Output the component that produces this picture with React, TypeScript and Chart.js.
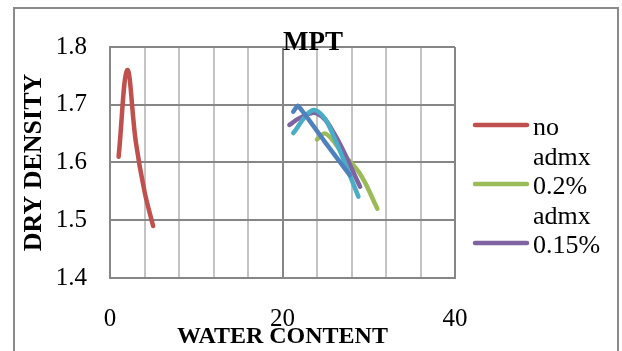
import React, { useEffect, useRef } from "react";
import { Chart, registerables } from "chart.js";

Chart.register(...registerables);

const chartTitle = "MPT";
const xTitle = "WATER CONTENT";
const yTitle = "DRY DENSITY";

const redX = [1, 2, 3, 4, 5];
const redY = [1.61, 1.76, 1.635, 1.55, 1.49];
const greenX = [24, 25, 27, 29, 31];
const greenY = [1.64, 1.65, 1.615, 1.58, 1.52];
const purpleX = [20.8, 22, 24, 26, 29];
const purpleY = [1.665, 1.677, 1.685, 1.65, 1.558];
const cyanX = [21.25, 23.4, 24.7, 26, 28.8];
const cyanY = [1.651, 1.69, 1.68, 1.643, 1.541];
const blueX = [21.25, 21.8, 24.8, 27.8];
const blueY = [1.688, 1.698, 1.638, 1.578];

const legendEntries = [
  { lines: ["no", "admx"], color: "#C0504D" },
  { lines: ["0.2%", "admx"], color: "#9BBB59" },
  { lines: ["0.15%"], color: "#8064A2" },
];

const xMajorTicks = [0, 20, 40];

const toPts = (xs: number[], ys: number[]) => xs.map((x, i) => ({ x, y: ys[i] }));

const FONT = "'Liberation Serif', 'Times New Roman', serif";

const decorPlugin = {
  id: "decor",
  beforeDraw(chart: any) {
    const ctx = chart.ctx;
    ctx.save();
    ctx.fillStyle = "#ffffff";
    ctx.fillRect(0, 0, chart.width, chart.height);
    ctx.strokeStyle = "#8a8a8a";
    ctx.lineWidth = 2;
    ctx.strokeRect(14, 8, 604, 360);
    ctx.restore();
  },
  afterDraw(chart: any) {
    const ctx = chart.ctx;
    ctx.save();
    ctx.fillStyle = "#000";
    ctx.font = `bold 27px ${FONT}`;
    ctx.textAlign = "center";
    ctx.textBaseline = "alphabetic";
    ctx.fillText(chartTitle, 313, 50);

    ctx.font = `26px ${FONT}`;
    ctx.textAlign = "left";
    let base = 135;
    const step = 29.5;
    legendEntries.forEach((e) => {
      ctx.strokeStyle = e.color;
      ctx.lineWidth = 4.5;
      ctx.lineCap = "round";
      ctx.beginPath();
      ctx.moveTo(475, base - 10);
      ctx.lineTo(527, base - 10);
      ctx.stroke();
      e.lines.forEach((t) => {
        ctx.fillText(t, 533, base);
        base += step;
      });
    });
    ctx.restore();
  },
};

export default function App() {
  const ref = useRef<HTMLCanvasElement>(null);
  useEffect(() => {
    if (!ref.current) return;
    const mk = (label: string, xs: number[], ys: number[], color: string, tension = 0.4) => ({
      label,
      data: toPts(xs, ys),
      borderColor: color,
      backgroundColor: color,
      borderWidth: 4.5,
      pointRadius: 0,
      tension,
      borderCapStyle: "round" as const,
      borderJoinStyle: "round" as const,
      showLine: true,
      fill: false,
    });
    const chart = new Chart(ref.current, {
      type: "scatter",
      data: {
        datasets: [
          mk("blue", blueX, blueY, "#4F81BD", 0.15),
          mk("cyan", cyanX, cyanY, "#4BACC6"),
          mk("0.15% admx", purpleX, purpleY, "#8064A2"),
          mk("0.2% admx", greenX, greenY, "#9BBB59"),
          mk("no admx", redX, redY, "#C0504D"),
        ],
      },
      options: {
        animation: false,
        responsive: false,
        devicePixelRatio: 1,
        layout: { padding: { left: 0, right: 167, top: 47, bottom: 0 } },
        plugins: { legend: { display: false }, tooltip: { enabled: false }, title: { display: false } },
        scales: {
          x: {
            type: "linear",
            min: 0,
            max: 40,
            afterFit: (s: any) => { s.height = 73; },
            ticks: {
              stepSize: 4,
              autoSkip: false,
              maxRotation: 0,
              padding: 26,
              color: "#000",
              font: { family: FONT, size: 25 },
              callback: (v: any) => (xMajorTicks.includes(Number(v)) ? String(v) : ""),
            },
            grid: {
              drawTicks: false,
              lineWidth: 2,
              color: (c: any) => (c.tick && xMajorTicks.includes(c.tick.value) ? "#868686" : "#c4c4c4"),
            },
            border: { display: true, color: "#868686", width: 2 },
            title: {
              display: true,
              text: xTitle,
              color: "#000",
              font: { family: FONT, size: 24, weight: "bold" },
              padding: { top: 0, bottom: 0 },
            },
          },
          y: {
            type: "linear",
            min: 1.4,
            max: 1.8,
            afterFit: (s: any) => { s.width = 110; },
            ticks: {
              stepSize: 0.1,
              padding: 23,
              color: "#000",
              font: { family: FONT, size: 25 },
              callback: (v: any) => Number(v).toFixed(1),
            },
            grid: { drawTicks: false, lineWidth: 2, color: "#868686" },
            border: { display: true, color: "#868686", width: 2 },
            title: {
              display: true,
              text: yTitle,
              color: "#000",
              font: { family: FONT, size: 26, weight: "bold" },
              padding: { top: 19, bottom: 0 },
            },
          },
        },
      },
      plugins: [decorPlugin],
    });
    return () => chart.destroy();
  }, []);
  return (
    <div style={{ position: "fixed", left: 0, top: 0, width: 622, height: 351 }}>
      <canvas ref={ref} width={622} height={351} style={{ width: 622, height: 351, display: "block" }} />
    </div>
  );
}
